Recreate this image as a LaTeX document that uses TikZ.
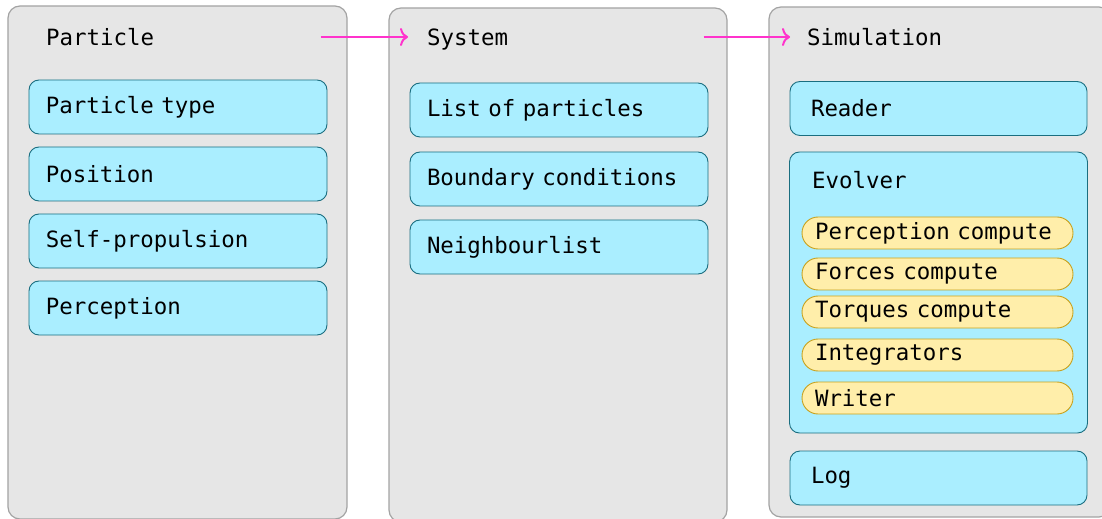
\documentclass[tikz,border=0pt]{standalone}
\usepackage{fontspec}
\setmonofont{DejaVu Sans Mono}
\usepackage{tikz}
\usetikzlibrary{positioning,calc,arrows.meta}
\definecolor{panelgray}{HTML}{E6E6E6}
\definecolor{panelline}{HTML}{A3A3A3}
\definecolor{itemblue}{HTML}{AAEEFF}
\definecolor{itemline}{HTML}{1A6E80}
\definecolor{taskyellow}{HTML}{FFEEAA}
\definecolor{taskline}{HTML}{C8A21E}
\definecolor{flowpink}{HTML}{FF33CC}

\begin{document}
\begin{tikzpicture}[x=1bp,y=-1bp,on grid,font=\ttfamily\fontsize{22.5}{26}\selectfont,
  panel/.style={draw=panelline,fill=panelgray,rounded corners=12bp,line width=1.2bp,minimum width=339bp},
  item/.style={draw=itemline,fill=itemblue,rounded corners=10bp,line width=0.9bp,minimum width=298bp,minimum height=54bp,text width=264bp,inner xsep=17bp},
  task/.style={draw=taskline,fill=taskyellow,rounded corners=16bp,line width=0.9bp,minimum width=271bp,minimum height=32bp,text width=245bp,inner xsep=13bp,inner ysep=0pt},
  title/.style={anchor=base west,inner sep=0pt},
  flow/.style={-{To[length=8bp,width=18bp]},draw=flowpink,line width=2bp}]
\useasboundingbox (0,0) rectangle (1102,519);
% the three columns
\node[panel,minimum height=513bp](particle) at (177.5,262.5) {};
\node[panel,minimum height=514bp,minimum width=338bp](system) at (558,265) {};
\node[panel,minimum height=510bp,minimum width=342bp](simulation) at (940,262) {};
\node[title](ptitle) at (46,46) {Particle};
\node[title](stitle) at (427,46) {System};
\node[title](mtitle) at (807,46) {Simulation};
% particle
\node[item](ptype) at (178,107) {Particle type};
\node[item](ppos)[below=67bp of ptype] {Position};
\node[item](pprop)[below=67bp of ppos] {Self-propulsion};
\node[item](pperc)[below=67bp of pprop] {Perception};
% system
\node[item](slist) at (559,110) {List of particles};
\node[item](sbound)[below=69bp of slist] {Boundary conditions};
\node[item](sneigh)[below=68bp of sbound] {Neighbourlist};
% simulation
\node[item,minimum width=297bp,text width=255bp,inner xsep=21bp](reader) at (938.5,108.5) {Reader};
\node[item,minimum width=297bp,minimum height=281bp](evolver)[below=184bp of reader] {};
\node[title](etitle) at (812,189) {Evolver};
\node[task](tperc) at (937.5,233) {Perception compute};
\node[task](tforce)[below=41bp of tperc] {Forces compute};
\node[task](ttorq)[below=38bp of tforce] {Torques compute};
\node[task](tint)[below=43bp of ttorq] {Integrators};
\node[task](twrite)[below=43bp of tint] {Writer};
\node[item,minimum width=297bp,text width=255bp,inner xsep=21bp](log)[below=185.5bp of evolver] {Log};
% flow between the columns
\draw[flow] ([xshift=-27bp,yshift=9bp]particle.east |- ptitle.base) -- ([xshift=-19bp,yshift=9bp]stitle.base west);
\draw[flow] ([xshift=-24bp,yshift=9bp]system.east |- stitle.base) -- ([xshift=-17bp,yshift=9bp]mtitle.base west);
\end{tikzpicture}
\end{document}
